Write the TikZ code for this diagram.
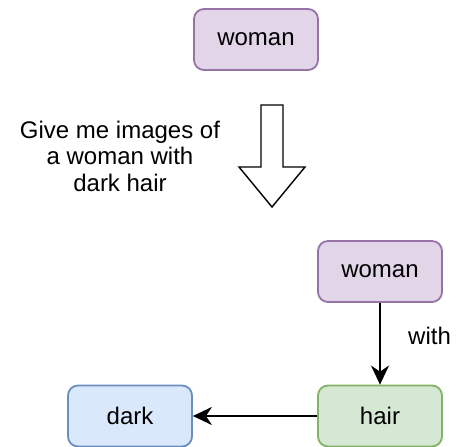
\documentclass[tikz,border=0pt]{standalone}
\usepackage{fontspec}
\setmainfont{Liberation Sans}
\usetikzlibrary{arrows.meta}
\definecolor{purplefill}{HTML}{E1D5E7}
\definecolor{purpleline}{HTML}{9673A6}
\definecolor{greenfill}{HTML}{D5E8D4}
\definecolor{greenline}{HTML}{82B366}
\definecolor{bluefill}{HTML}{DAE8FC}
\definecolor{blueline}{HTML}{6C8EBF}
\begin{document}
\begin{tikzpicture}[x=1pt,y=-1pt,
  every node/.style={font=\fontsize{24}{26.5}\selectfont},
  box/.style={rectangle, rounded corners=10pt, line width=1.8pt,
    minimum width=124pt, minimum height=61pt, inner sep=0pt},
  purplebox/.style={box, draw=purpleline, fill=purplefill},
  greenbox/.style={box, draw=greenline, fill=greenfill},
  bluebox/.style={box, draw=blueline, fill=bluefill},
  link/.style={line width=1.8pt, -{Stealth[length=19pt,width=18pt,inset=6pt]}}]
  \useasboundingbox (0,0) rectangle (462,446);

  % query
  \node[purplebox] (query) at (256,39.5) {woman};

  % instruction text
  \node[align=center] (prompt) at (120,156) {Give me images of\\a woman with\\dark hair};

  % block arrow
  \draw[line width=1.4pt, fill=white, line join=miter]
    (261,105) -- (283,105) -- (283,167) -- (305,167) -- (272,207)
    -- (239,167) -- (261,167) -- cycle;

  % parsed graph
  \node[purplebox] (woman) at (380,271.5) {woman};
  \node[greenbox] (hair) at (380,416) {hair};
  \node[bluebox] (dark) at (130,416) {dark};

  \draw[link] (woman) -- node[right=24pt, pos=0.4] (with) {with} (hair);
  \draw[link] (hair) -- (dark);
\end{tikzpicture}
\end{document}
